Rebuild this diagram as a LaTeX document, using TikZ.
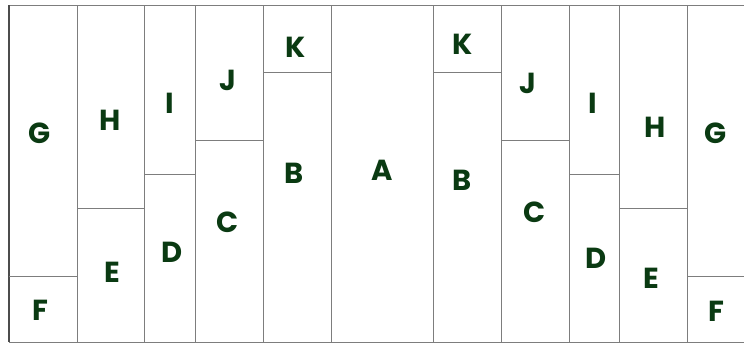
\documentclass[tikz,border=0pt]{standalone}
\usepackage{fontspec}
\setmainfont{Poppins}
\usepackage{xcolor}
\definecolor{lettergreen}{RGB}{10,58,18}
\definecolor{cellgray}{RGB}{125,125,125}

\begin{document}
\begin{tikzpicture}[x=1pt, y=-1pt,
    cell/.style={draw=cellgray, line width=1pt},
    letter/.style={font=\fontsize{29}{29}\selectfont\bfseries, text=lettergreen, inner sep=0pt}]
  \useasboundingbox (0,0) rectangle (744,343);
  % outer lines
  \draw[cell] (9,5) -- (744,5);
  \draw[cell] (9,342) -- (744,342);
  \draw[draw=black!70, line width=1.4pt] (9,5) -- (9,342);
  % columns
  \foreach \x in {77,144,195,263,331,433,501,569,619,687}
    \draw[cell] (\x,5) -- (\x,342);
  % splits, left half
  \draw[cell] (9,276) -- (77,276);
  \draw[cell] (77,208) -- (144,208);
  \draw[cell] (144,174) -- (195,174);
  \draw[cell] (195,140) -- (263,140);
  \draw[cell] (263,72) -- (331,72);
  % splits, right half
  \draw[cell] (433,72) -- (501,72);
  \draw[cell] (501,140) -- (569,140);
  \draw[cell] (569,174) -- (619,174);
  \draw[cell] (619,208) -- (687,208);
  \draw[cell] (687,276) -- (744,276);

  % letters
  \node[letter] (A)  at (382,170) {A};
  \node[letter] (Bl) at (294,173) {B};
  \node[letter] (Br) at (462,180) {B};
  \node[letter] (Cl) at (228,222) {C};
  \node[letter] (Cr) at (535,212) {C};
  \node[letter] (Dl) at (172,252) {D};
  \node[letter] (Dr) at (596,258) {D};
  \node[letter] (El) at (112,272) {E};
  \node[letter] (Er) at (651,278) {E};
  \node[letter] (Fl) at (40,310)  {F};
  \node[letter] (Fr) at (716,311) {F};
  \node[letter] (Gl) at (40,133)  {G};
  \node[letter] (Gr) at (716,133) {G};
  \node[letter] (Hl) at (110,120) {H};
  \node[letter] (Hr) at (655,127) {H};
  \node[letter] (Il) at (170,103) {I};
  \node[letter] (Ir) at (593,103) {I};
  \node[letter] (Jl) at (228,80)  {J};
  \node[letter] (Jr) at (528,83)  {J};
  \node[letter] (Kl) at (296,47)  {K};
  \node[letter] (Kr) at (463,44)  {K};
\end{tikzpicture}
\end{document}
